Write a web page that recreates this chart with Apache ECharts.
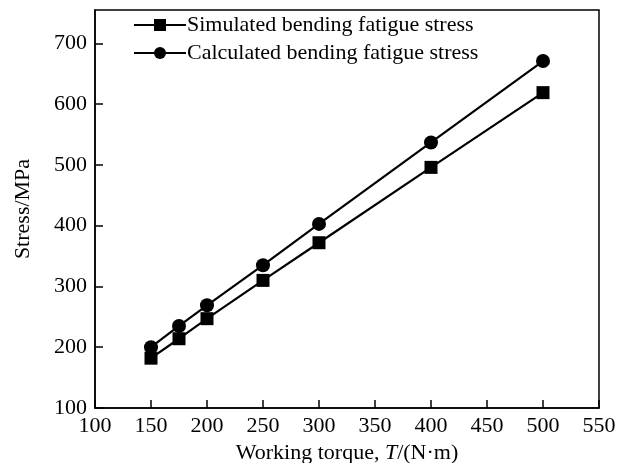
<!DOCTYPE html>
<html><head><meta charset="utf-8">
<script src="https://cdn.jsdelivr.net/npm/echarts@6/dist/echarts.min.js"></script>
<style>html,body{margin:0;padding:0;background:#fff}#c{width:627px;height:463px}</style>
</head><body><div id="c"></div>
<script>
const torque = [150, 175, 200, 250, 300, 400, 500];
const simulated = [182, 214, 247, 310, 372, 496, 619];
const calculated = [200, 235, 269, 335, 403, 537, 671];
const xTicks = [100, 150, 200, 250, 300, 350, 400, 450, 500, 550];
const yTicks = [100, 200, 300, 400, 500, 600, 700];

const font = 'Liberation Serif';
const fs = 22;
const chart = echarts.init(document.getElementById('c'));
chart.setOption({
  animation: false,
  grid: {left: 95, right: 28, top: 10, bottom: 55, outerBoundsMode: 'none', containLabel: false, show: true, borderColor: '#000', borderWidth: 1.5, backgroundColor: 'transparent'},
  legend: {
    orient: 'vertical', left: 128, top: 9, itemWidth: 52, itemHeight: 15, itemGap: 6,
    textStyle: {fontFamily: font, fontSize: fs, color: '#000', padding: [0,0,0,-4]},
    data: ['Simulated bending fatigue stress', 'Calculated bending fatigue stress']
  },
  xAxis: {
    type: 'value', min: 100, max: 550, interval: 50,
    axisLine: {lineStyle: {color: '#000', width: 1.5}},
    axisTick: {inside: true, length: 8, lineStyle: {color: '#000', width: 1.5}},
    splitLine: {show: false},
    axisLabel: {fontFamily: font, fontSize: fs, color: '#000', margin: 7,
      formatter: v => xTicks.includes(v) ? String(v) : ''},
    name: '{a|Working torque, }{i|T}{a|/(N·m)}', nameLocation: 'middle', nameGap: 30,
    nameTextStyle: {rich: {a: {fontFamily: font, fontSize: fs, color: '#000'}, i: {fontFamily: font, fontSize: fs, color: '#000', fontStyle: 'italic'}}}
  },
  yAxis: {
    type: 'value', min: 100, max: 755, interval: 100,
    axisLine: {lineStyle: {color: '#000', width: 1.5}},
    axisTick: {inside: true, length: 8, lineStyle: {color: '#000', width: 1.5}},
    splitLine: {show: false},
    axisLabel: {fontFamily: font, fontSize: fs, color: '#000', margin: 8, showMaxLabel: false,
      formatter: v => yTicks.includes(v) ? String(v) : ''},
    name: 'Stress/MPa', nameLocation: 'middle', nameGap: 61,
    nameTextStyle: {fontFamily: font, fontSize: fs, color: '#000'}
  },
  series: [
    {name: 'Simulated bending fatigue stress', type: 'line', symbol: 'rect', symbolSize: 13,
     data: torque.map((t, i) => [t, simulated[i]]),
     lineStyle: {color: '#000', width: 2.2}, itemStyle: {color: '#000'}},
    {name: 'Calculated bending fatigue stress', type: 'line', symbol: 'circle', symbolSize: 14,
     data: torque.map((t, i) => [t, calculated[i]]),
     lineStyle: {color: '#000', width: 2.2}, itemStyle: {color: '#000'}}
  ]
});
</script></body></html>
